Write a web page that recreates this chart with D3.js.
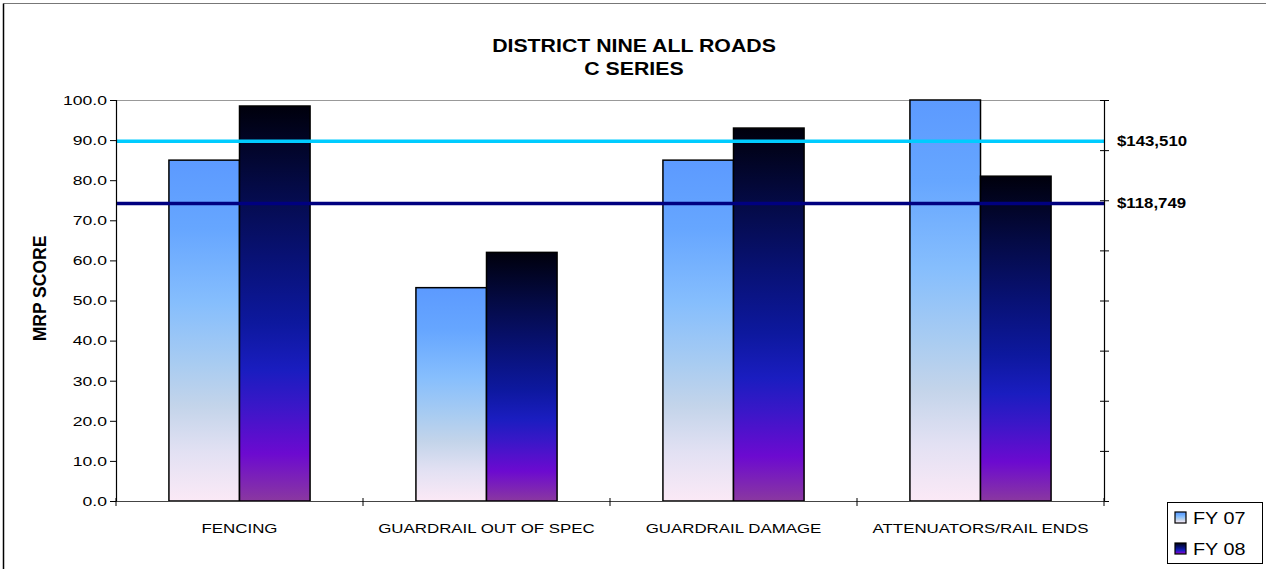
<!DOCTYPE html>
<html>
<head>
<meta charset="utf-8">
<script src="https://cdn.jsdelivr.net/npm/d3@7"></script>
<style>
  html, body { margin: 0; padding: 0; background: #fff; }
  svg { display: block; font-family: "Liberation Sans", Arial, sans-serif; }
</style>
</head>
<body>
<svg id="chart" width="1266" height="569"></svg>
<script>
// ---- data ----
const categories = ["FENCING", "GUARDRAIL OUT OF SPEC", "GUARDRAIL DAMAGE", "ATTENUATORS/RAIL ENDS"];
const seriesNames = ["FY 07", "FY 08"];
const fy07 = [85.0, 53.2, 85.0, 100.0];
const fy08 = [98.5, 62.0, 93.0, 81.0];
const yTicks = [0, 10, 20, 30, 40, 50, 60, 70, 80, 90, 100];
const rightTicks = [0, 20000, 40000, 60000, 80000, 100000, 120000, 140000, 160000];
const refValues = [143510, 118749];
const refLabels = ["$143,510", "$118,749"];
const titleLines = ["DISTRICT NINE ALL ROADS", "C SERIES"];
const yTitle = "MRP SCORE";

// ---- layout ----
const svg = d3.select("#chart");
const pLeft = 116, pRight = 1104, pTop = 100, pBottom = 501;
const FONT = "'Liberation Sans', Arial, sans-serif";

const x0 = d3.scaleBand().domain(categories).range([pLeft, pRight]).padding(0);
const x1 = d3.scaleBand().domain(seriesNames).range([0, x0.bandwidth()]).paddingInner(0).paddingOuter(0.75);
const y = d3.scaleLinear().domain([0, 100]).range([pBottom, pTop]);
const yR = d3.scaleLinear().domain([0, 160000]).range([pBottom, pTop]);

// stretch helper: widen text to match the reference's wide rendering
function stretch(sel, k) {
  sel.each(function () {
    const len = this.getComputedTextLength();
    d3.select(this).attr("textLength", len * k).attr("lengthAdjust", "spacingAndGlyphs");
  });
}

// ---- gradients ----
const defs = svg.append("defs");
const g07 = defs.append("linearGradient").attr("id", "g07").attr("x1", 0).attr("y1", 0).attr("x2", 0).attr("y2", 1);
[[0, "#5c9aff"], [0.2, "#66a6ff"], [0.42, "#86befd"], [0.6, "#a9ccf1"], [0.72, "#c3d4ea"], [0.86, "#e3e1f3"], [1, "#fbe9f6"]]
  .forEach(([o, c]) => g07.append("stop").attr("offset", o).attr("stop-color", c));
const g08 = defs.append("linearGradient").attr("id", "g08").attr("x1", 0).attr("y1", 0).attr("x2", 0).attr("y2", 1);
[[0, "#00000c"], [0.2, "#040a45"], [0.38, "#081174"], [0.55, "#0d189e"], [0.67, "#1a1dc0"], [0.76, "#3a17c8"], [0.88, "#6c0ad0"], [1, "#8a38a0"]]
  .forEach(([o, c]) => g08.append("stop").attr("offset", o).attr("stop-color", c));
const fills = { "FY 07": "url(#g07)", "FY 08": "url(#g08)" };
const values = { "FY 07": fy07, "FY 08": fy08 };

// ---- outer border ----
svg.append("line").attr("x1", 3.5).attr("y1", 3.5).attr("x2", 1266).attr("y2", 3.5).attr("stroke", "#777").attr("stroke-width", 1);
svg.append("line").attr("x1", 3.5).attr("y1", 3.5).attr("x2", 3.5).attr("y2", 569).attr("stroke", "#000").attr("stroke-width", 1.5);

// ---- title ----
const title = svg.append("g");
titleLines.forEach((t, i) => {
  title.append("text").attr("x", (pLeft + pRight) / 2 + 24).attr("y", 52 + i * 23)
    .attr("text-anchor", "middle").attr("font-weight", "bold").attr("font-size", 18.5)
    .attr("font-family", FONT).attr("fill", "#000").text(t);
});
stretch(title.selectAll("text"), 1.15);

// ---- plot top border (gray) ----
svg.append("line").attr("x1", pLeft).attr("x2", pRight).attr("y1", pTop + 0.5).attr("y2", pTop + 0.5).attr("stroke", "#999").attr("stroke-width", 1);

// ---- bars ----
const groups = svg.append("g").selectAll("g").data(categories).join("g")
  .attr("transform", d => `translate(${x0(d)},0)`);
groups.selectAll("rect").data((d, i) => seriesNames.map(s => ({ s, v: values[s][i] }))).join("rect")
  .attr("x", d => x1(d.s)).attr("width", x1.bandwidth())
  .attr("y", d => y(d.v)).attr("height", d => y(0) - y(d.v))
  .attr("fill", d => fills[d.s]).attr("stroke", "#000").attr("stroke-width", 1.5);

// ---- reference lines ----
const refColors = ["#00ccff", "#000080"];
svg.append("g").selectAll("line").data(refValues).join("line")
  .attr("x1", pLeft).attr("x2", pRight).attr("y1", d => yR(d)).attr("y2", d => yR(d))
  .attr("stroke", (d, i) => refColors[i]).attr("stroke-width", 3.5);

// ---- left axis ----
const yAxis = svg.append("g").attr("transform", `translate(${pLeft},0)`)
  .call(d3.axisLeft(y).tickValues(yTicks).tickFormat(d3.format(".1f")).tickSize(6).tickPadding(3));
yAxis.select(".domain").attr("stroke", "#000").attr("stroke-width", 1.2);
yAxis.selectAll(".tick line").attr("stroke", "#000").attr("x2", -6).attr("x1", 1);
yAxis.selectAll(".tick text").attr("font-size", 13.5).attr("fill", "#000").attr("font-family", FONT);
stretch(yAxis.selectAll(".tick text"), 1.3);

// ---- right axis ----
const rAxis = svg.append("g").attr("transform", `translate(${pRight},0)`)
  .call(d3.axisRight(yR).tickValues(rightTicks).tickFormat("").tickSize(5));
rAxis.select(".domain").attr("stroke", "#000").attr("stroke-width", 1.2);
rAxis.selectAll(".tick line").attr("stroke", "#000").attr("x1", -4).attr("x2", 5);

// ---- bottom axis ----
const xAxis = svg.append("g").attr("transform", `translate(0,${pBottom})`)
  .call(d3.axisBottom(x0).tickSize(0).tickPadding(22));
xAxis.select(".domain").attr("stroke", "#444").attr("stroke-width", 1.2);
xAxis.selectAll(".tick text").attr("font-size", 13.5).attr("fill", "#000").attr("font-family", FONT);
stretch(xAxis.selectAll(".tick text"), 1.25);
// category boundary ticks
svg.append("g").selectAll("line").data(categories.concat([null])).join("line")
  .attr("x1", d => d === null ? pRight : x0(d)).attr("x2", d => d === null ? pRight : x0(d))
  .attr("y1", pBottom - 3).attr("y2", pBottom + 5).attr("stroke", "#000");

// ---- y title ----
const yt = svg.append("text").attr("transform", `translate(46,${(pTop + pBottom) / 2 - 12}) rotate(-90)`)
  .attr("text-anchor", "middle").attr("font-weight", "bold").attr("font-size", 17.5)
  .attr("font-family", FONT).attr("fill", "#000").text(yTitle);
stretch(yt, 1.0);

// ---- right labels ----
const rl = svg.append("g").selectAll("text").data(refValues).join("text")
  .attr("x", pRight + 13).attr("y", d => yR(d)).attr("dy", "0.35em")
  .attr("font-weight", "bold").attr("font-size", 14).attr("font-family", FONT)
  .attr("fill", "#000").text((d, i) => refLabels[i]);
stretch(rl, 1.2);

// ---- legend ----
const lg = svg.append("g");
lg.append("rect").attr("x", 1167.5).attr("y", 502.5).attr("width", 95).attr("height", 61).attr("fill", "#fff").attr("stroke", "#000");
seriesNames.forEach((s, i) => {
  const cy = 518 + i * 31;
  lg.append("rect").attr("x", 1175).attr("y", cy - 6).attr("width", 11).attr("height", 11)
    .attr("fill", fills[s]).attr("stroke", "#000").attr("stroke-width", 1.2);
  lg.append("text").attr("x", 1193).attr("y", cy).attr("dy", "0.36em")
    .attr("font-size", 16.5).attr("font-family", FONT).attr("fill", "#000").text(s);
});
stretch(lg.selectAll("text"), 1.2);
</script>
</body>
</html>
